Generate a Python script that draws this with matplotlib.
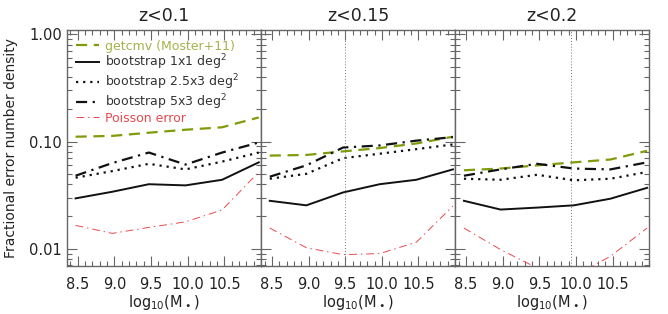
import numpy as np
import matplotlib
matplotlib.use("Agg")
import matplotlib.pyplot as plt
from matplotlib.ticker import FixedLocator, MultipleLocator, NullFormatter

# bin centres in log10 stellar mass
mass = [8.47, 8.97, 9.47, 9.97, 10.47, 10.97]
titles = ["z<0.1", "z<0.15", "z<0.2"]
vlines = [None, 9.5, 9.93]

# fractional errors, one list per panel
getcmv = [[0.111, 0.113, 0.121, 0.129, 0.136, 0.168],
          [0.074, 0.075, 0.081, 0.087, 0.096, 0.111],
          [0.054, 0.056, 0.060, 0.064, 0.068, 0.082]]
boot_1x1 = [[0.0295, 0.034, 0.040, 0.039, 0.044, 0.064],
            [0.028, 0.0254, 0.0335, 0.040, 0.044, 0.055],
            [0.028, 0.0232, 0.0242, 0.0254, 0.0293, 0.037]]
boot_25x3 = [[0.046, 0.053, 0.062, 0.055, 0.065, 0.079],
             [0.045, 0.050, 0.070, 0.077, 0.085, 0.094],
             [0.045, 0.044, 0.049, 0.0435, 0.045, 0.052]]
boot_5x3 = [[0.048, 0.063, 0.079, 0.061, 0.079, 0.098],
            [0.047, 0.060, 0.088, 0.092, 0.102, 0.110],
            [0.048, 0.055, 0.062, 0.056, 0.055, 0.064]]
poisson = [[0.0165, 0.0139, 0.0158, 0.0178, 0.023, 0.052],
           [0.0156, 0.0102, 0.0088, 0.0090, 0.0115, 0.025],
           [0.0156, 0.0098, 0.0066, 0.0055, 0.0085, 0.0156]]

green = "#7e9c0a"
red = "#e8494d"
dark = "#111111"
axcol = "#666666"

fig = plt.figure(figsize=(6.68, 3.14), dpi=100)
left, right, bottom, top = 0.1, 0.972, 0.153, 0.903
w = (right - left) / 3

for i in range(3):
    ax = fig.add_axes([left + i * w, bottom, w, top - bottom])
    ax.plot(mass, getcmv[i], color=green, lw=1.6, ls=(0, (5, 3)), label="getcmv (Moster+11)")
    ax.plot(mass, boot_1x1[i], color=dark, lw=1.4, ls="-", label="bootstrap 1x1 deg$^2$")
    ax.plot(mass, boot_25x3[i], color=dark, lw=1.6, ls=(0, (1, 2.2)), label="bootstrap 2.5x3 deg$^2$")
    ax.plot(mass, boot_5x3[i], color=dark, lw=1.6, ls=(0, (5, 2.5, 1, 2.5)), label="bootstrap 5x3 deg$^2$")
    ax.plot(mass, poisson[i], color=red, lw=0.7, ls=(0, (8, 4, 1.5, 4)), label="Poisson error")
    if vlines[i] is not None:
        ax.axvline(vlines[i], color="#777777", lw=0.7, ls=(0, (1, 2)))

    ax.set_yscale("log")
    ax.set_ylim(0.0069, 1.09)
    ax.set_xlim(8.35, 11.0)
    ax.xaxis.set_major_locator(FixedLocator([8.5, 9.0, 9.5, 10.0, 10.5]))
    ax.set_xticklabels(["8.5", "9.0", "9.5", "10.0", "10.5"])
    ax.xaxis.set_minor_locator(MultipleLocator(0.1))
    ax.set_yticks([0.01, 0.1, 1.0])
    ax.yaxis.set_minor_formatter(NullFormatter())
    if i == 0:
        ax.set_yticklabels(["0.01", "0.10", "1.00"])
        ax.set_ylabel("Fractional error number density", fontsize=10, color="#222222", labelpad=8)
    else:
        ax.set_yticklabels([])
    ax.tick_params(which="both", direction="in", top=True, right=True,
                   color=axcol, labelsize=10.5, labelcolor="#222222")
    ax.tick_params(which="major", length=7, width=0.8)
    ax.tick_params(which="minor", length=3.5, width=0.8)
    ax.tick_params(axis="x", pad=8)
    for s in ax.spines.values():
        s.set_color(axcol)
        s.set_linewidth(1.0)
    ax.set_title(titles[i], fontsize=12.5, color="#222222", pad=7)
    ax.set_xlabel("log$_{10}$(M$_\\bullet$)", fontsize=10.5, color="#222222", labelpad=1)

    if i == 0:
        leg = ax.legend(loc="upper left", frameon=False, fontsize=9, handlelength=1.8,
                        handletextpad=0.5, labelspacing=0.0, borderaxespad=0.3,
                        borderpad=0.45)
        tcols = ["#a3b34a", "#333333", "#333333", "#333333", red]
        for t, c in zip(leg.get_texts(), tcols):
            t.set_color(c)

fig.savefig("out.png", dpi=100)
